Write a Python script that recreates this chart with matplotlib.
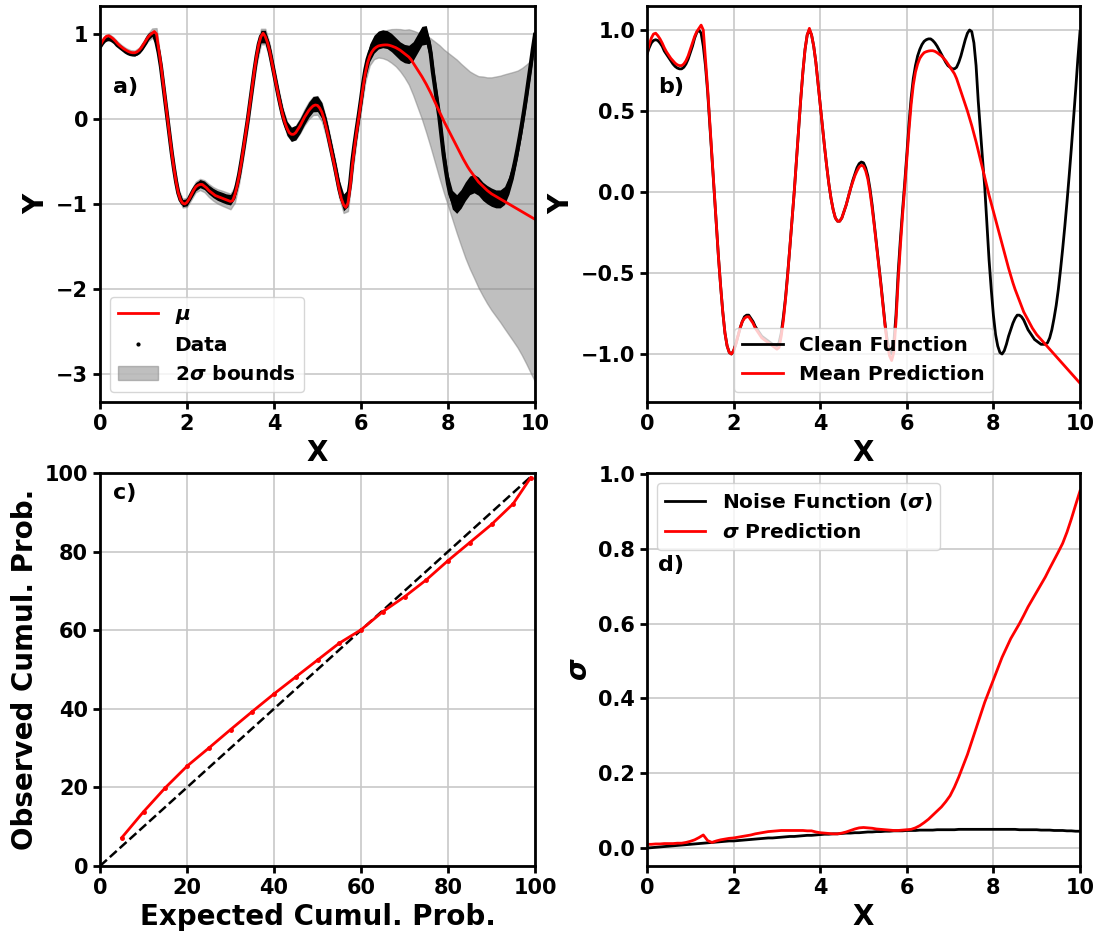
import numpy as np
import matplotlib as mpl
import matplotlib.pyplot as plt

mpl.rcParams['font.family'] = 'DejaVu Sans'
mpl.rcParams['font.weight'] = 'bold'
mpl.rcParams['axes.labelweight'] = 'bold'
try:
    mpl.rcParams['mathtext.default'] = 'bfit'
except Exception:
    mpl.rcParams['mathtext.default'] = 'bf'

# fine grid for the curves (0 .. 10, step 0.05)
x = np.linspace(0, 10, 201)
# coarse grid for the sigma curves (0 .. 10, step 0.1)
xs = np.linspace(0, 10, 101)

clean = [0.85, 0.89, 0.92, 0.935, 0.94, 0.935, 0.92, 0.90, 0.87, 0.85,
         0.83, 0.81, 0.79, 0.775, 0.765, 0.76, 0.76, 0.77, 0.79, 0.82,
         0.86, 0.90, 0.95, 0.985, 1.00, 0.98, 0.90, 0.78, 0.62, 0.42,
         0.22, 0.01, -0.20, -0.40, -0.58, -0.74, -0.87, -0.95, -0.99, -1.00,
         -0.98, -0.94, -0.89, -0.84, -0.80, -0.77, -0.76, -0.76, -0.78, -0.80,
         -0.83, -0.85, -0.87, -0.89, -0.90, -0.91, -0.92, -0.93, -0.94, -0.945,
         -0.95, -0.93, -0.87, -0.77, -0.65, -0.50, -0.34, -0.17, 0.00, 0.19,
         0.38, 0.57, 0.74, 0.88, 0.97, 1.00, 0.97, 0.90, 0.80, 0.67,
         0.54, 0.41, 0.28, 0.16, 0.05, -0.04, -0.11, -0.16, -0.18, -0.18,
         -0.16, -0.12, -0.08, -0.03, 0.02, 0.07, 0.11, 0.15, 0.175, 0.185,
         0.18, 0.15, 0.10, 0.02, -0.08, -0.20, -0.32, -0.44, -0.56, -0.69,
         -0.82, -0.92, -0.98, -1.00, -0.93, -0.76, -0.50, -0.30, -0.12, 0.05,
         0.23, 0.42, 0.58, 0.70, 0.78, 0.84, 0.88, 0.91, 0.93, 0.94,
         0.945, 0.945, 0.935, 0.92, 0.90, 0.875, 0.85, 0.825, 0.80, 0.78,
         0.77, 0.76, 0.76, 0.77, 0.80, 0.84, 0.89, 0.94, 0.98, 1.00,
         0.99, 0.92, 0.78, 0.56, 0.38, 0.20, 0.03, -0.20, -0.42, -0.60,
         -0.76, -0.88, -0.95, -0.99, -1.00, -0.98, -0.94, -0.89, -0.85, -0.81,
         -0.78, -0.76, -0.76, -0.77, -0.79, -0.82, -0.85, -0.87, -0.89, -0.91,
         -0.92, -0.93, -0.94, -0.94, -0.94, -0.93, -0.90, -0.85, -0.78, -0.70,
         -0.60, -0.48, -0.35, -0.21, -0.06, 0.10, 0.27, 0.45, 0.63, 0.82,
         0.99]

mean = [0.86, 0.91, 0.95, 0.975, 0.98, 0.965, 0.945, 0.92, 0.89, 0.865,
        0.845, 0.825, 0.81, 0.795, 0.785, 0.78, 0.78, 0.79, 0.81, 0.84,
        0.88, 0.92, 0.96, 0.99, 1.01, 1.03, 1.00, 0.82, 0.64, 0.43,
        0.22, 0.01, -0.20, -0.40, -0.58, -0.74, -0.87, -0.95, -0.99, -1.00,
        -0.98, -0.94, -0.89, -0.84, -0.80, -0.78, -0.77, -0.77, -0.79, -0.81,
        -0.84, -0.86, -0.88, -0.90, -0.91, -0.92, -0.93, -0.94, -0.95, -0.96,
        -0.97, -0.96, -0.89, -0.79, -0.66, -0.51, -0.34, -0.17, 0.00, 0.19,
        0.38, 0.57, 0.74, 0.88, 0.97, 1.01, 0.97, 0.90, 0.80, 0.67,
        0.54, 0.41, 0.28, 0.16, 0.05, -0.04, -0.11, -0.16, -0.18, -0.18,
        -0.16, -0.12, -0.08, -0.03, 0.02, 0.06, 0.10, 0.13, 0.155, 0.165,
        0.16, 0.13, 0.08, 0.00, -0.10, -0.21, -0.33, -0.45, -0.57, -0.70,
        -0.83, -0.94, -1.01, -1.04, -0.99, -0.80, -0.55, -0.34, -0.15, 0.02,
        0.20, 0.38, 0.54, 0.66, 0.74, 0.79, 0.825, 0.845, 0.86, 0.866,
        0.87, 0.872, 0.872, 0.868, 0.86, 0.85, 0.84, 0.825, 0.81, 0.79,
        0.77, 0.75, 0.73, 0.70, 0.66, 0.62, 0.58, 0.54, 0.50, 0.455,
        0.41, 0.36, 0.31, 0.255, 0.20, 0.145, 0.09, 0.035, -0.02, -0.07,
        -0.12, -0.17, -0.22, -0.27, -0.32, -0.37, -0.42, -0.47, -0.515, -0.56,
        -0.60, -0.635, -0.67, -0.705, -0.74, -0.765, -0.79, -0.815, -0.84, -0.86,
        -0.88, -0.895, -0.91, -0.925, -0.94, -0.955, -0.97, -0.985, -1.00, -1.015,
        -1.03, -1.045, -1.06, -1.075, -1.09, -1.105, -1.12, -1.135, -1.15, -1.165,
        -1.18]

sigma_pred = [0.010, 0.010, 0.011, 0.011, 0.012, 0.012, 0.012, 0.013, 0.013, 0.015,
              0.018, 0.022, 0.028, 0.035, 0.020, 0.015, 0.019, 0.022, 0.024, 0.026,
              0.027, 0.029, 0.031, 0.033, 0.035, 0.038, 0.040, 0.042, 0.044, 0.045,
              0.046, 0.047, 0.047, 0.047, 0.047, 0.047, 0.047, 0.046, 0.046, 0.043,
              0.041, 0.040, 0.039, 0.038, 0.038, 0.040, 0.043, 0.047, 0.051, 0.054,
              0.055, 0.054, 0.053, 0.051, 0.050, 0.049, 0.048, 0.047, 0.047, 0.048,
              0.049, 0.050, 0.054, 0.060, 0.068, 0.077, 0.088, 0.099, 0.110, 0.124,
              0.140, 0.163, 0.190, 0.220, 0.250, 0.285, 0.320, 0.355, 0.390, 0.420,
              0.450, 0.480, 0.510, 0.535, 0.560, 0.580, 0.600, 0.622, 0.645, 0.665,
              0.685, 0.705, 0.725, 0.748, 0.770, 0.792, 0.815, 0.845, 0.880, 0.918,
              0.955]

noise_sigma = [0.000, 0.001, 0.002, 0.003, 0.004, 0.005, 0.006, 0.007, 0.008, 0.009,
               0.010, 0.011, 0.012, 0.013, 0.014, 0.015, 0.016, 0.017, 0.018, 0.019,
               0.019, 0.020, 0.021, 0.022, 0.023, 0.024, 0.025, 0.026, 0.027, 0.027,
               0.028, 0.029, 0.030, 0.031, 0.031, 0.032, 0.033, 0.034, 0.034, 0.035,
               0.036, 0.037, 0.037, 0.038, 0.038, 0.039, 0.040, 0.040, 0.041, 0.041,
               0.042, 0.043, 0.043, 0.044, 0.044, 0.045, 0.045, 0.046, 0.046, 0.046,
               0.047, 0.047, 0.047, 0.048, 0.048, 0.048, 0.048, 0.049, 0.049, 0.049,
               0.049, 0.049, 0.050, 0.050, 0.050, 0.050, 0.050, 0.050, 0.050, 0.050,
               0.050, 0.050, 0.050, 0.050, 0.050, 0.050, 0.049, 0.049, 0.049, 0.049,
               0.049, 0.048, 0.048, 0.048, 0.047, 0.047, 0.047, 0.046, 0.046, 0.045,
               0.045]

# calibration curve (percent)
expected = [5, 10, 15, 20, 25, 30, 35, 40, 45, 50, 55, 60, 65, 70, 75, 80, 85, 90, 95, 99]
observed = [7.2, 13.8, 19.9, 25.4, 30.0, 34.7, 39.3, 43.8, 48.1, 52.4,
            56.7, 60.1, 64.7, 68.5, 72.8, 77.7, 82.3, 86.9, 92.2, 98.8]

clean = np.array(clean)
mean = np.array(mean)
sigma_pred = np.array(sigma_pred)
noise_sigma = np.array(noise_sigma)

TICK = 15
LAB = 20
LEG = 14.5

fig = plt.figure(figsize=(10.97, 9.34), dpi=100)
W, H = 1097.0, 934.0
ax_a = fig.add_axes([100/W, 1-402/H, 435/W, 396/H])
ax_b = fig.add_axes([647/W, 1-402/H, 433/W, 396/H])
ax_c = fig.add_axes([100/W, 1-866/H, 435/W, 393/H])
ax_d = fig.add_axes([647/W, 1-866/H, 433/W, 393/H])

for ax in [ax_a, ax_b, ax_c, ax_d]:
    ax.grid(True, color='#c8c8c8', lw=1.2)
    ax.set_axisbelow(True)
    for s in ax.spines.values():
        s.set_linewidth(2)
    ax.tick_params(labelsize=TICK, width=2, length=5)

# a) data, mean and 2 sigma band
mean_s = mean[::2]
clean_s = clean[::2]
ax_a.fill_between(xs, mean_s - 2*sigma_pred, mean_s + 2*sigma_pred, color='gray',
                  alpha=0.5, lw=1, label=r'2$\sigma$ bounds')
ax_a.fill_between(xs, clean_s - 2.2*noise_sigma, clean_s + 2.2*noise_sigma, color='k', lw=0)
ax_a.plot(x, clean, color='k', lw=3)
ax_a.plot([], [], 'k.', ms=4, label='Data')
ax_a.plot(x, mean, color='r', lw=2, label=r'$\mu$')
ax_a.set_xlim(0, 10)
ax_a.set_ylim(-3.33, 1.33)
ax_a.set_xticks([0, 2, 4, 6, 8, 10])
ax_a.set_yticks([-3, -2, -1, 0, 1])
ax_a.set_xlabel('X', fontsize=LAB)
ax_a.set_ylabel('Y', fontsize=LAB)
h, l = ax_a.get_legend_handles_labels()
ax_a.legend([h[2], h[1], h[0]], [l[2], l[1], l[0]], loc='lower left', fontsize=LEG)
ax_a.text(0.03, 0.78, 'a)', transform=ax_a.transAxes, fontsize=16, fontweight='bold')

# b) clean function vs mean prediction
ax_b.plot(x, clean, color='k', lw=2, label='Clean Function')
ax_b.plot(x, mean, color='r', lw=2, label='Mean Prediction')
ax_b.set_xlim(0, 10)
ax_b.set_ylim(-1.296, 1.148)
ax_b.set_xticks([0, 2, 4, 6, 8, 10])
ax_b.set_yticks([-1.0, -0.5, 0.0, 0.5, 1.0])
ax_b.set_xlabel('X', fontsize=LAB)
ax_b.set_ylabel('Y', fontsize=LAB)
ax_b.legend(loc='lower center', fontsize=LEG)
ax_b.text(0.025, 0.78, 'b)', transform=ax_b.transAxes, fontsize=16, fontweight='bold')

# c) calibration
ax_c.plot([0, 99], [0, 99], 'k--', lw=1.8)
ax_c.plot(expected, observed, color='r', lw=2, marker='.', ms=5)
ax_c.set_xlim(0, 100)
ax_c.set_ylim(0, 100)
ax_c.set_xlabel('Expected Cumul. Prob.', fontsize=LAB)
ax_c.set_ylabel('Observed Cumul. Prob.', fontsize=LAB)
ax_c.text(0.03, 0.935, 'c)', transform=ax_c.transAxes, fontsize=16, fontweight='bold')

# d) noise
ax_d.plot(xs, noise_sigma, color='k', lw=2, label=r'Noise Function ($\sigma$)')
ax_d.plot(xs, sigma_pred, color='r', lw=2, label=r'$\sigma$ Prediction')
ax_d.set_xlim(0, 10)
ax_d.set_ylim(-0.048, 1.003)
ax_d.set_xticks([0, 2, 4, 6, 8, 10])
ax_d.set_xlabel('X', fontsize=LAB)
ax_d.set_ylabel(r'$\sigma$', fontsize=LAB)
ax_d.legend(loc='upper left', fontsize=LEG)
ax_d.text(0.025, 0.75, 'd)', transform=ax_d.transAxes, fontsize=16, fontweight='bold')

fig.savefig('out.png', dpi=100)
